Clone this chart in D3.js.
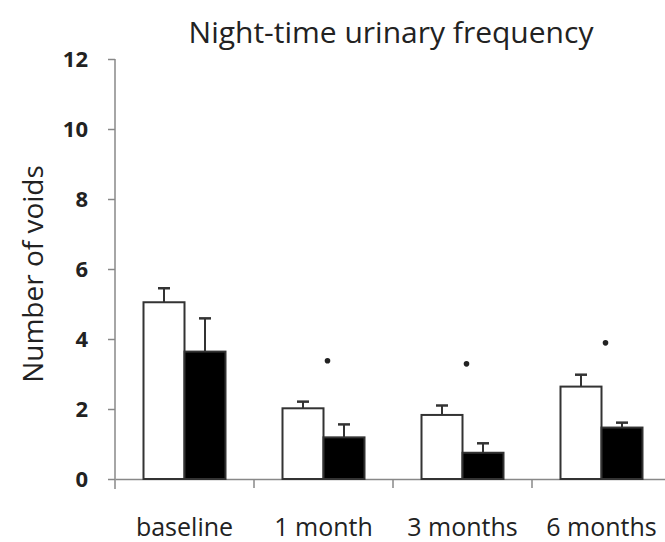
<!DOCTYPE html>
<html lang="en">
<head>
<meta charset="UTF-8">
<title>Night-time urinary frequency</title>
<script src="https://cdn.jsdelivr.net/npm/d3@7"></script>
<style>
    body { margin: 0; background: #fff; }
    svg { display: block; font-family: "Open Sans", "Noto Sans", sans-serif; }
</style>
</head>
<body>
<div id="chart"></div>
<script>
    // data
    var categories = ['baseline', '1 month', '3 months', '6 months'];
    var whiteMeans = [5.05, 2.02, 1.83, 2.64];
    var whiteErr = [0.40, 0.19, 0.27, 0.34];
    var blackMeans = [3.64, 1.19, 0.75, 1.47];
    var blackErr = [0.95, 0.37, 0.27, 0.14];
    // significance marks (category, y value)
    var starCats = ['1 month', '3 months', '6 months'];
    var starVals = [3.38, 3.29, 3.89];
    var yTicks = [0, 2, 4, 6, 8, 10, 12];

    var width = 665, height = 542;
    var svg = d3.select('#chart').append('svg')
        .attr('width', width)
        .attr('height', height);

    var x = d3.scaleBand().domain(categories).range([115, 671]).padding(0);
    var y = d3.scaleLinear().domain([0, 12]).range([479, 59]);
    var barW = 41;

    // title
    svg.append('text')
        .attr('x', 391).attr('y', 43)
        .attr('text-anchor', 'middle')
        .attr('font-size', 30)
        .attr('fill', '#222')
        .text('Night-time urinary frequency');

    // y axis
    var yAxis = svg.append('g')
        .attr('transform', 'translate(115,0)')
        .attr('font-family', null)
        .call(d3.axisLeft(y).tickValues(yTicks).tickSize(7).tickPadding(20));
    yAxis.attr('font-family', null).attr('font-size', null);
    yAxis.select('.domain').attr('stroke', '#888').attr('stroke-width', 1.5)
        .attr('d', 'M0,' + y(12) + 'V' + (y(0) + 10));
    yAxis.selectAll('.tick line').attr('stroke', '#888').attr('stroke-width', 1.5);
    yAxis.selectAll('.tick text').attr('font-size', 22).attr('font-weight', 700).attr('fill', '#222');

    // x axis
    var xAxis = svg.append('g')
        .attr('transform', 'translate(0,' + y(0) + ')')
        .call(d3.axisBottom(x).tickSize(0));
    xAxis.attr('font-family', null).attr('font-size', null);
    xAxis.select('.domain').attr('stroke', '#888').attr('stroke-width', 1.5);
    xAxis.selectAll('.tick text').attr('y', 57).attr('dy', 0)
        .attr('font-size', 25).attr('fill', '#222');
    // category separators
    xAxis.selectAll('.sep').data(categories.slice(1)).enter().append('line')
        .attr('x1', function (d) { return x(d); })
        .attr('x2', function (d) { return x(d); })
        .attr('y1', 0).attr('y2', 9)
        .attr('stroke', '#888').attr('stroke-width', 1.5);

    function center(c) { return x(c) + x.bandwidth() / 2; }

    function drawSeries(means, errs, fill, offset) {
        var g = svg.append('g');
        var rows = categories.map(function (c, i) { return {c: c, v: means[i], e: errs[i]}; });
        // error bars (up only)
        g.selectAll('line.err').data(rows).enter().append('line')
            .attr('x1', function (d) { return center(d.c) + offset + barW / 2; })
            .attr('x2', function (d) { return center(d.c) + offset + barW / 2; })
            .attr('y1', function (d) { return y(d.v); })
            .attr('y2', function (d) { return y(d.v + d.e); })
            .attr('stroke', '#333').attr('stroke-width', 2);
        g.selectAll('line.cap').data(rows).enter().append('line')
            .attr('x1', function (d) { return center(d.c) + offset + barW / 2 - 6; })
            .attr('x2', function (d) { return center(d.c) + offset + barW / 2 + 6; })
            .attr('y1', function (d) { return y(d.v + d.e); })
            .attr('y2', function (d) { return y(d.v + d.e); })
            .attr('stroke', '#333').attr('stroke-width', 2.5);
        g.selectAll('rect').data(rows).enter().append('rect')
            .attr('x', function (d) { return center(d.c) + offset; })
            .attr('y', function (d) { return y(d.v); })
            .attr('width', barW)
            .attr('height', function (d) { return y(0) - y(d.v); })
            .attr('fill', fill)
            .attr('stroke', '#333').attr('stroke-width', 2);
    }

    drawSeries(whiteMeans, whiteErr, '#fff', -barW);
    drawSeries(blackMeans, blackErr, '#000', 0);

    // significance dots
    svg.selectAll('circle.star').data(starCats).enter().append('circle')
        .attr('cx', function (d) { return center(d) + 4; })
        .attr('cy', function (d, i) { return y(starVals[i]); })
        .attr('r', 2.8)
        .attr('fill', '#222');

    // y axis label
    svg.append('text')
        .attr('transform', 'translate(43,274) rotate(-90)')
        .attr('text-anchor', 'middle')
        .attr('font-size', 28)
        .attr('fill', '#222')
        .text('Number of voids');
</script>
</body>
</html>
